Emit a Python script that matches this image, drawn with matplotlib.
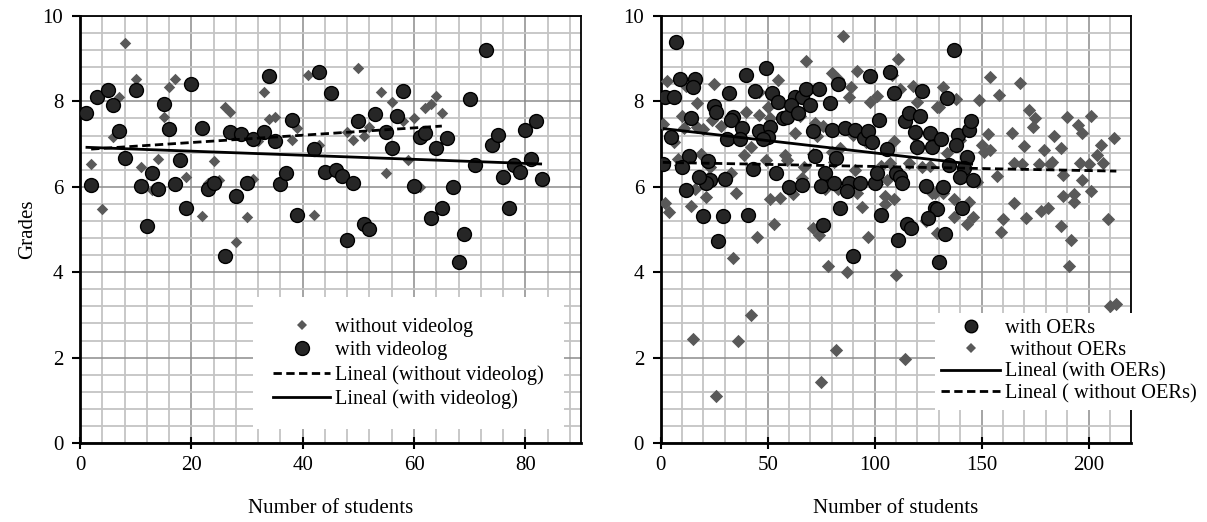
import numpy as np
import matplotlib
matplotlib.use("Agg")
import matplotlib.pyplot as plt
from matplotlib.lines import Line2D
from matplotlib.ticker import MultipleLocator

plt.rcParams['font.family'] = ['Liberation Serif', 'DejaVu Serif']

# ---------------- data: left panel (videolog) ----------------
with_video_x = [1, 2, 3, 5, 6, 7, 8, 10, 11, 12, 13, 14, 15, 16, 17, 18, 19, 20, 22, 23, 24, 26, 27, 28,
                29, 30, 31, 33, 34, 35, 36, 37, 38, 39, 42, 43, 44, 45, 46, 47, 48, 49, 50, 51, 52, 53,
                55, 56, 57, 58, 60, 61, 62, 63, 64, 65, 66, 67, 68, 69, 70, 71, 73, 74, 75, 76, 77, 78,
                79, 80, 81, 82, 83]
with_video_y = [7.74, 6.04, 8.11, 8.27, 7.92, 7.31, 6.68, 8.27, 6.03, 5.09, 6.32, 5.96, 7.95, 7.35, 6.06,
                6.63, 5.50, 8.40, 7.38, 5.94, 6.10, 4.39, 7.29, 5.78, 7.23, 6.10, 7.11, 7.28, 8.59, 7.07,
                6.06, 6.33, 7.56, 5.34, 6.89, 8.68, 6.35, 8.20, 6.39, 6.26, 4.75, 6.08, 7.55, 5.14, 5.02,
                7.70, 7.29, 6.92, 7.66, 8.25, 6.02, 7.17, 7.25, 5.26, 6.92, 5.50, 7.14, 5.99, 4.25, 4.89,
                8.06, 6.50, 9.20, 6.97, 7.21, 6.24, 5.51, 6.50, 6.35, 7.33, 6.66, 7.55, 6.18]

without_video_x = [2, 4, 6, 7, 8, 10, 11, 13, 14, 15, 16, 17, 19, 22, 23, 24, 25, 26, 27, 28, 30, 31, 32,
                   33, 34, 35, 38, 39, 41, 42, 43, 48, 49, 50, 51, 52, 54, 55, 56, 58, 59, 60, 61, 62,
                   63, 64, 65]
without_video_y = [6.53, 5.47, 7.16, 8.11, 9.36, 8.52, 6.47, 5.92, 6.65, 7.63, 8.33, 8.52, 6.24, 5.32,
                   6.10, 6.61, 6.16, 7.88, 7.76, 4.71, 5.30, 6.18, 7.08, 8.21, 7.59, 7.64, 7.10, 7.37,
                   8.62, 5.34, 6.99, 7.29, 7.10, 8.79, 7.19, 7.41, 8.21, 6.32, 7.99, 7.53, 6.63, 7.62,
                   6.00, 7.84, 7.94, 8.13, 7.72]

# ---------------- data: right panel (OERs) ----------------
with_oer_x = [7, 9, 16, 15, 2, 6, 25, 26, 32, 40, 49, 44, 52, 55, 63, 66, 68, 74, 79, 83, 98, 107, 109,
              122, 14, 34, 33, 38, 46, 51, 50, 48, 57, 59, 61, 64, 70, 71, 80, 86, 91, 95, 97, 99, 102,
              114, 116, 121, 119, 120, 126, 127, 106, 5, 31, 37, 13, 10, 1, 22, 30, 23, 21, 18, 12, 43,
              54, 60, 66, 72, 82, 77, 75, 81, 88, 87, 93, 100, 101, 110, 112, 113, 124, 128, 20, 29, 41,
              27, 84, 76, 103, 115, 117, 111, 90, 130, 137, 134, 131, 139, 144, 145, 138, 143, 135, 142,
              140, 146, 132, 129, 125, 141, 133]
with_oer_y = [9.38, 8.52, 8.52, 8.33, 8.11, 8.11, 7.89, 7.76, 8.20, 8.62, 8.79, 8.25, 8.20, 7.99, 8.11,
              8.11, 8.28, 8.28, 7.97, 8.41, 8.59, 8.70, 8.20, 8.25, 7.60, 7.63, 7.56, 7.38, 7.31, 7.41,
              7.17, 7.11, 7.60, 7.64, 7.92, 7.74, 7.92, 7.31, 7.33, 7.38, 7.33, 7.15, 7.31, 7.06, 7.56,
              7.55, 7.72, 7.66, 7.29, 6.94, 7.25, 6.94, 6.88, 7.17, 7.11, 7.11, 6.71, 6.47, 6.53, 6.61,
              6.19, 6.16, 6.10, 6.24, 5.92, 6.41, 6.32, 5.99, 6.04, 6.71, 6.67, 6.32, 6.03, 6.08, 6.10,
              5.91, 6.10, 6.08, 6.32, 6.33, 6.24, 6.08, 6.02, 5.50, 5.32, 5.32, 5.34, 4.72, 5.50, 5.11,
              5.34, 5.13, 5.03, 4.75, 4.39, 4.25, 9.20, 8.07, 7.13, 7.21, 7.33, 7.55, 6.98, 6.69, 6.50,
              6.44, 6.24, 6.16, 6.00, 5.48, 5.26, 5.50, 4.89]

without_oer_x = [85, 68, 111, 92, 80, 83, 55, 25, 3, 12, 32, 46, 89, 88, 108, 118, 112, 101, 98, 17, 70,
                 120, 129, 10, 24, 40, 46, 50, 65, 1, 11, 17, 20, 28, 51, 63, 72, 76, 73, 90, 96, 91, 109,
                 119, 129, 6, 42, 84, 80, 19, 8, 9, 23, 33, 39, 49, 58, 59, 67, 71, 81, 91, 103, 107, 116,
                 122, 126, 22, 66, 77, 106, 16, 21, 35, 51, 56, 62, 77, 83, 92, 101, 105, 105, 109, 127,
                 2, 4, 14, 94, 124, 53, 71, 74, 97, 45, 129, 34, 78, 87, 110, 42, 15, 36, 82, 114, 75, 26,
                 154, 168, 158, 149, 138, 132, 130, 172, 175, 174, 190, 201, 195, 197, 212, 153, 164, 184,
                 206, 140, 150, 170, 179, 187, 204, 207, 154, 151, 134, 165, 169, 177, 182, 183, 196, 200,
                 157, 188, 197, 201, 188, 193, 193, 148, 144, 137, 128, 132, 165, 178, 181, 160, 171, 187,
                 209, 137, 143, 146, 159, 192, 124, 191, 210, 213]
without_oer_y = [9.52, 8.95, 9.00, 8.71, 8.67, 8.52, 8.49, 8.41, 8.48, 8.35, 8.17, 8.23, 8.33, 8.11, 8.62,
                 8.36, 8.28, 8.13, 7.99, 7.97, 7.89, 7.99, 7.86, 7.66, 7.56, 7.76, 7.68, 7.86, 7.66, 7.47,
                 7.37, 7.41, 7.35, 7.42, 7.60, 7.27, 7.50, 7.43, 7.20, 7.21, 7.06, 7.29, 7.08, 7.19, 7.17,
                 7.06, 6.94, 6.92, 6.82, 6.77, 6.64, 6.50, 6.47, 6.32, 6.74, 6.63, 6.74, 6.63, 6.47, 6.77,
                 6.59, 6.39, 6.49, 6.55, 6.55, 6.47, 6.49, 6.21, 6.20, 6.12, 6.16, 5.94, 5.75, 5.86, 5.71,
                 5.73, 5.83, 5.94, 5.96, 5.85, 6.06, 5.78, 5.60, 5.71, 5.86, 5.61, 5.42, 5.56, 5.52, 5.22,
                 5.14, 5.03, 4.87, 4.82, 4.82, 4.91, 4.33, 4.15, 4.01, 3.93, 3.00, 2.44, 2.39, 2.18, 1.97,
                 1.42, 1.11,
                 8.56, 8.42, 8.15, 8.03, 8.05, 8.33, 7.86, 7.80, 7.60, 7.41, 7.63, 7.66, 7.45, 7.27, 7.15,
                 7.24, 7.27, 7.20, 6.99, 7.10, 6.98, 6.96, 6.86, 6.92, 6.75, 6.56, 6.86, 6.82, 6.78, 6.55,
                 6.53, 6.53, 6.53, 6.59, 6.55, 6.53, 6.25, 6.28, 6.16, 5.91, 5.78, 5.83, 5.65, 6.12, 5.65,
                 5.71, 5.85, 5.85, 5.63, 5.43, 5.51, 5.25, 5.28, 5.09, 5.25, 5.30, 5.13, 5.30, 4.93, 4.76,
                 5.20, 4.15, 3.22, 3.25]

left_labels = ["without videolog", "with videolog", "Lineal (without videolog)", "Lineal (with videolog)"]
right_labels = ["with OERs", " without OERs", "Lineal (with OERs)", "Lineal ( without OERs)"]

# ---------------- styling ----------------
CIRCLE_FC = '#262626'
DIAMOND_C = '#595959'
FS = 15

fig = plt.figure(figsize=(12.07, 5.22), dpi=100)
axL = fig.add_axes([80 / 1207, 1 - 443 / 522, 501 / 1207, 427 / 522])
axR = fig.add_axes([660.7 / 1207, 1 - 443 / 522, 470.6 / 1207, 427 / 522])


def style_axis(ax, xmax, xmaj, xmin):
    ax.set_xlim(0, xmax)
    ax.set_ylim(0, 10)
    ax.xaxis.set_major_locator(MultipleLocator(xmaj))
    ax.xaxis.set_minor_locator(MultipleLocator(xmin))
    ax.yaxis.set_major_locator(MultipleLocator(2))
    ax.yaxis.set_minor_locator(MultipleLocator(0.4))
    ax.grid(which='minor', color='#c4c4c4', lw=1.3, zorder=0)
    ax.grid(which='major', color='#8c8c8c', lw=1.1, zorder=0)
    ax.set_axisbelow(True)
    for s in ['left', 'bottom']:
        ax.spines[s].set_linewidth(2.0)
    for s in ['top', 'right']:
        ax.spines[s].set_linewidth(1.3)
    ax.tick_params(axis='x', which='major', direction='inout', length=9, width=1.5, labelsize=FS, pad=5)
    ax.tick_params(axis='y', which='major', direction='out', length=6, width=1.5, labelsize=FS, pad=6)
    ax.tick_params(which='minor', length=0)
    ax.set_xlabel("Number of students", fontsize=FS, labelpad=17)


def trend(ax, x, y, ls):
    x = np.asarray(x, float)
    y = np.asarray(y, float)
    k, b = np.polyfit(x, y, 1)
    xs = np.array([x.min(), x.max()])
    ln, = ax.plot(xs, k * xs + b, color='black', lw=2.0, zorder=4, solid_capstyle='butt')
    if ls == 'dashed':
        ln.set_dashes([3.0, 1.6])
    return ln


# left panel
style_axis(axL, 90, 20, 4)
axL.set_ylabel("Grades", fontsize=FS, labelpad=4)
axL.scatter(without_video_x, without_video_y, marker='D', s=34, color=DIAMOND_C, lw=0, zorder=3)
axL.scatter(with_video_x, with_video_y, marker='o', s=100, facecolor=CIRCLE_FC, edgecolor='black', lw=1.0, zorder=3)
trend(axL, without_video_x, without_video_y, 'dashed')
trend(axL, with_video_x, with_video_y, 'solid')

hL = [Line2D([], [], ls='none', marker='D', ms=5, color=DIAMOND_C, mew=0),
      Line2D([], [], ls='none', marker='o', ms=10, mfc=CIRCLE_FC, mec='black', mew=1.0),
      Line2D([], [], color='black', lw=2.0, dashes=[3.0, 1.6]),
      Line2D([], [], color='black', lw=2.0)]
legL = axL.legend(hL, left_labels, loc='upper left', bbox_to_anchor=(0.345, 0.342), fontsize=14.7,
                  frameon=True, facecolor='white', edgecolor='none', framealpha=1, fancybox=False,
                  handlelength=2.8, handletextpad=0.2, labelspacing=0.22, borderpad=1.0, borderaxespad=0)
legL.set_zorder(5)

# right panel
style_axis(axR, 220, 50, 10)
axR.scatter(without_oer_x, without_oer_y, marker='D', s=46, color=DIAMOND_C, lw=0, zorder=3)
axR.scatter(with_oer_x, with_oer_y, marker='o', s=100, facecolor=CIRCLE_FC, edgecolor='black', lw=1.0, zorder=3)
trend(axR, with_oer_x, with_oer_y, 'solid')
trend(axR, without_oer_x, without_oer_y, 'dashed')

hR = [Line2D([], [], ls='none', marker='o', ms=9, mfc=CIRCLE_FC, mec='black', mew=1.0),
      Line2D([], [], ls='none', marker='D', ms=5, color=DIAMOND_C, mew=0),
      Line2D([], [], color='black', lw=2.0),
      Line2D([], [], color='black', lw=2.0, dashes=[3.0, 1.6])]
legR = axR.legend(hR, right_labels, loc='upper left', bbox_to_anchor=(0.583, 0.305), fontsize=14.7,
                  frameon=True, facecolor='white', edgecolor='none', framealpha=1, fancybox=False,
                  handlelength=2.9, handletextpad=0.25, labelspacing=0.12, borderpad=0.3, borderaxespad=0)
legR.set_zorder(5)

fig.savefig("out.png", dpi=100)
